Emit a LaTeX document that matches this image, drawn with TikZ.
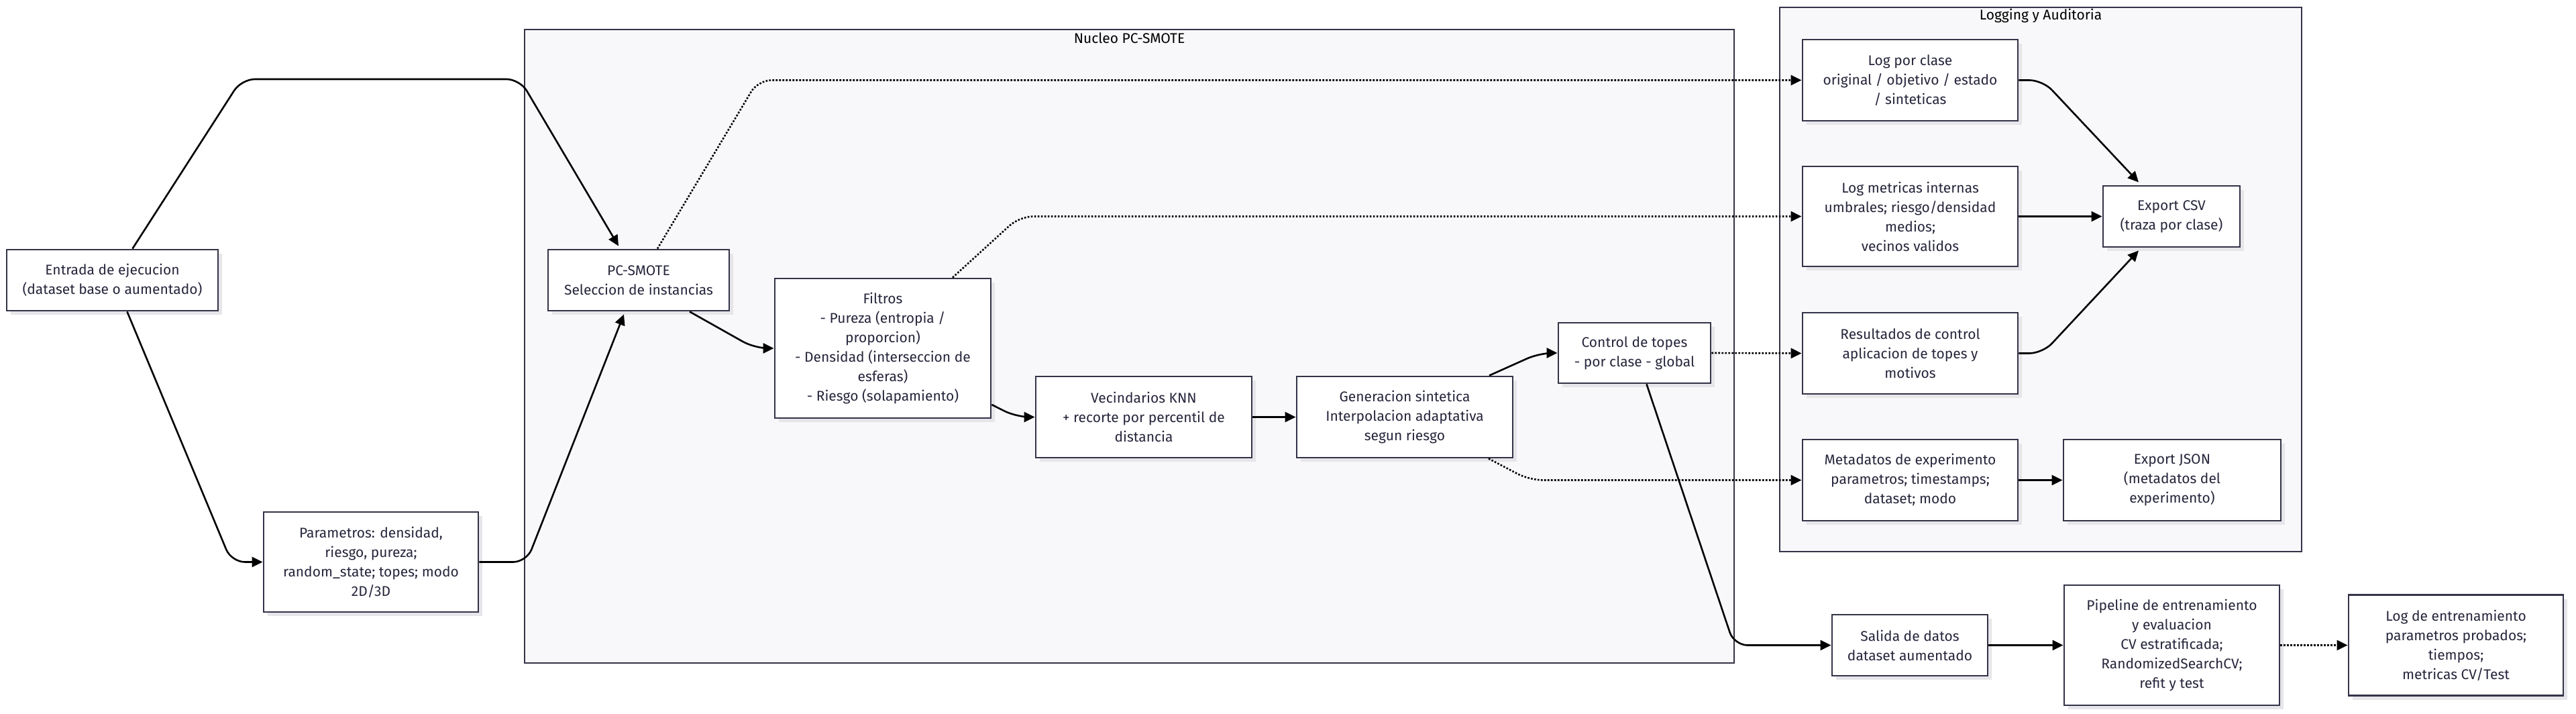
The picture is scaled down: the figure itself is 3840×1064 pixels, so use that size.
\documentclass[tikz,border=0pt]{standalone}
\usepackage{fontspec}
\setmainfont{Fira Sans}
\usetikzlibrary{arrows.meta,shadows}
\definecolor{ink}{HTML}{26263C}
\definecolor{edgec}{HTML}{333348}
\definecolor{clfill}{HTML}{F8F8FA}
\definecolor{shad}{HTML}{E6E6EA}
\begin{document}
\begin{tikzpicture}[x=0.5pt,y=-0.5pt,
 box/.style={draw=edgec, line width=1.4pt, fill=white, text=ink, align=center,
   font=\fontsize{10.5}{14.5}\selectfont, inner sep=0pt,
   drop shadow={shadow xshift=3pt, shadow yshift=-3pt, fill=shad, opacity=1}},
 cluster/.style={draw=edgec, line width=1pt, fill=clfill, inner sep=0pt},
 ctitle/.style={font=\fontsize{10.5}{12}\selectfont, text=black, inner sep=0pt},
 arr/.style={draw=black, line width=1.3pt, -{Triangle[length=8pt,width=7.5pt]}, rounded corners=10pt},
 dotc/.style={arr, dash pattern=on 1.3pt off 1.2pt}
]
\fill[white] (0,0) rectangle (3840,1064);
\useasboundingbox (0,0) rectangle (3840,1064);

% clusters
\node[cluster, minimum width=901.5pt, minimum height=472pt] (nucleo) at (1683.5,516) {};
\node[ctitle] at ([yshift=-7pt]nucleo.north) {Nucleo PC-SMOTE};
\node[cluster, minimum width=389pt, minimum height=405.5pt] (logging) at (3042,416.5) {};
\node[ctitle] at ([yshift=-7pt]logging.north) {Logging y Auditoria};

% nodes
\node[box, minimum width=157.5pt, minimum height=45.5pt] (entrada) at (167.5,417.5) {Entrada de ejecucion\\(dataset base o aumentado)};
\node[box, minimum width=160pt, minimum height=74.5pt] (param) at (553,837.5) {Parametros: densidad,\\riesgo, pureza;\\random\_state; topes; modo\\2D/3D};
\node[box, minimum width=135pt, minimum height=45.5pt] (pcsmote) at (952,417.5) {PC-SMOTE\\Seleccion de instancias};
\node[box, minimum width=161pt, minimum height=104pt] (filtros) at (1316,519) {Filtros\\- Pureza (entropia /\\proporcion)\\- Densidad (interseccion de\\esferas)\\- Riesgo (solapamiento)};
\node[box, minimum width=161pt, minimum height=60.5pt] (vecind) at (1705,621.5) {Vecindarios KNN\\+ recorte por percentil de\\distancia};
\node[box, minimum width=161pt, minimum height=60.5pt] (gener) at (2094,621.5) {Generacion sintetica\\Interpolacion adaptativa\\segun riesgo};
\node[box, minimum width=113.5pt, minimum height=45pt] (control) at (2436.5,526) {Control de topes\\- por clase - global};
\node[box, minimum width=160.5pt, minimum height=60.5pt] (logclase) at (2847.5,119.5) {Log por clase\\original / objetivo / estado\\/ sinteticas};
\node[box, minimum width=160.5pt, minimum height=74.5pt] (logmet) at (2847.5,322.5) {Log metricas internas\\umbrales; riesgo/densidad\\medios;\\vecinos validos};
\node[box, minimum width=102pt, minimum height=45.5pt] (csv) at (3237,322.5) {Export CSV\\(traza por clase)};
\node[box, minimum width=160.5pt, minimum height=60.5pt] (result) at (2847.5,526.5) {Resultados de control\\aplicacion de topes y\\motivos};
\node[box, minimum width=160.5pt, minimum height=60.5pt] (meta) at (2847.5,715.5) {Metadatos de experimento\\parametros; timestamps;\\dataset; modo};
\node[box, minimum width=162pt, minimum height=60.5pt] (json) at (3238,715.5) {Export JSON\\(metadatos del\\experimento)};
\node[box, minimum width=116pt, minimum height=45.5pt] (salida) at (2847,961.5) {Salida de datos\\dataset aumentado};
\node[box, minimum width=160.5pt, minimum height=89.5pt] (pipeline) at (3237.5,961.5) {Pipeline de entrenamiento\\y evaluacion\\CV estratificada;\\RandomizedSearchCV;\\refit y test};
\node[box, minimum width=160pt, minimum height=75pt] (logent) at (3661,961.5) {Log de entrenamiento\\parametros probados;\\tiempos;\\metricas CV/Test};

% connectors
\draw[arr] ([xshift=15pt]entrada.north) -- (360,118) -- (775,118) -- ([xshift=-15pt,yshift=2pt]pcsmote.north);
\draw[arr] ([xshift=11pt]entrada.south) -- (345,837.5) -- (param.west);
\draw[arr] (param.east) -- (785,837.5) -- ([xshift=-11pt,yshift=-2pt]pcsmote.south);
\draw[arr] ([xshift=38pt]pcsmote.south) -- (1125,519) -- (filtros.west);
\draw[arr] ([yshift=-42pt]filtros.east) -- (1515,621.5) -- (vecind.west);
\draw[arr] (vecind.east) -- (gener.west);
\draw[arr] ([xshift=63pt]gener.north) -- (2295,526) -- (control.west);
\draw[arr] ([xshift=9pt]control.south) -- (2585,961.5) -- (salida.west);
\draw[arr] (salida.east) -- (pipeline.west);
\draw[dotc] (pipeline.east) -- (logent.west);
\draw[dotc] ([xshift=14pt]pcsmote.north) -- (1130,119.5) -- (logclase.west);
\draw[dotc] ([xshift=52pt]filtros.north) -- (1520,322.5) -- (logmet.west);
\draw[dotc] (control.east) -- (result.west);
\draw[dotc] ([xshift=62.5pt]gener.south) -- (2280,715.5) -- (meta.west);
\draw[arr] (logclase.east) -- (3045,119.5) -- ([xshift=-24.5pt,yshift=2pt]csv.north);
\draw[arr] (logmet.east) -- (csv.west);
\draw[arr] (result.east) -- (3045,526.5) -- ([xshift=-24.5pt,yshift=-2pt]csv.south);
\draw[arr] (meta.east) -- (json.west);
\end{tikzpicture}
\end{document}
